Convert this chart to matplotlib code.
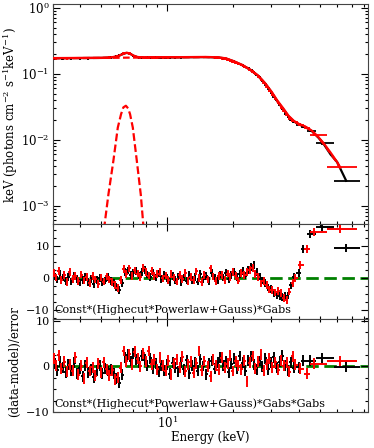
import numpy as np
import matplotlib
matplotlib.use("Agg")
import matplotlib.pyplot as plt
from matplotlib.ticker import LogLocator, MultipleLocator, NullFormatter

plt.rcParams['font.family'] = 'DejaVu Serif'
plt.rcParams['mathtext.fontset'] = 'dejavuserif'
plt.rcParams['font.size'] = 8
plt.rcParams['xtick.labelsize'] = 8.5
plt.rcParams['ytick.labelsize'] = 8.5

# --- bin centres (keV) ---
e_black = [3.05, 3.14, 3.23, 3.33, 3.43, 3.53, 3.64, 3.75, 3.86, 3.98,
           4.10, 4.22, 4.35, 4.48, 4.62, 4.76, 4.90, 5.05, 5.20, 5.36,
           5.52, 5.69, 5.86, 6.04, 6.22, 6.41, 6.60, 6.80, 7.00, 7.21,
           7.43, 7.65, 7.88, 8.12, 8.36, 8.61, 8.87, 9.14, 9.41, 9.69,
           9.98, 10.3, 10.6, 10.9, 11.2, 11.6, 11.9, 12.3, 12.6, 13.0,
           13.4, 13.8, 14.2, 14.6, 15.1, 15.5, 16.0, 16.5, 17.0, 17.5,
           18.0, 18.6, 19.1, 19.7, 20.3, 20.9, 21.5, 22.2, 22.8, 23.5,
           24.2, 25.0, 25.7, 26.5, 27.3, 28.1, 29.0, 29.9, 30.8, 31.7,
           32.7, 33.7, 34.7, 35.7, 36.8, 38.0, 40.0, 42.0, 45.0, 51.0,
           66.0]
e_red = [3.02, 3.10, 3.19, 3.28, 3.38, 3.48, 3.58, 3.69, 3.80, 3.92,
         4.04, 4.16, 4.29, 4.42, 4.55, 4.69, 4.83, 4.97, 5.12, 5.28,
         5.44, 5.60, 5.77, 5.95, 6.13, 6.31, 6.50, 6.70, 6.90, 7.11,
         7.32, 7.54, 7.77, 8.00, 8.24, 8.49, 8.74, 9.00, 9.27, 9.55,
         9.84, 10.1, 10.4, 10.7, 11.1, 11.4, 11.7, 12.1, 12.5, 12.8,
         13.2, 13.6, 14.0, 14.4, 14.8, 15.3, 15.8, 16.2, 16.7, 17.2,
         17.8, 18.3, 18.9, 19.4, 20.0, 20.6, 21.2, 21.8, 22.5, 23.2,
         23.9, 24.6, 25.3, 26.1, 26.9, 27.7, 28.5, 29.4, 30.3, 31.2,
         32.2, 33.2, 34.2, 35.2, 36.3, 37.5, 38.5, 40.7, 43.6, 47.0,
         62.0]
e_lo, e_hi_black, e_hi_red = 3.0, 76.0, 74.0

# --- unfolded spectrum keV (photons cm^-2 s^-1 keV^-1) ---
flux_black = [0.171, 0.173, 0.172, 0.170, 0.172, 0.173, 0.171, 0.172, 0.174, 0.171,
              0.172, 0.173, 0.171, 0.173, 0.172, 0.174, 0.173, 0.172, 0.174, 0.173,
              0.177, 0.179, 0.183, 0.191, 0.199, 0.207, 0.206, 0.199, 0.188, 0.181,
              0.177, 0.176, 0.175, 0.176, 0.175, 0.176, 0.177, 0.176, 0.177, 0.176,
              0.177, 0.176, 0.178, 0.177, 0.178, 0.177, 0.178, 0.179, 0.178, 0.179,
              0.179, 0.178, 0.180, 0.179, 0.180, 0.179, 0.178, 0.177, 0.175, 0.173,
              0.170, 0.166, 0.161, 0.156, 0.153, 0.147, 0.141, 0.134, 0.128, 0.121,
              0.113, 0.105, 0.097, 0.088, 0.078, 0.069, 0.060, 0.052, 0.045, 0.040,
              0.034, 0.029, 0.025, 0.022, 0.020, 0.0185, 0.0168, 0.0158, 0.0135, 0.0088,
              0.0024]
flux_red = [0.173, 0.171, 0.174, 0.172, 0.173, 0.171, 0.174, 0.172, 0.173, 0.174,
            0.172, 0.174, 0.173, 0.172, 0.174, 0.173, 0.175, 0.173, 0.174, 0.175,
            0.176, 0.178, 0.182, 0.187, 0.195, 0.203, 0.208, 0.203, 0.194, 0.184,
            0.179, 0.177, 0.176, 0.177, 0.176, 0.177, 0.176, 0.177, 0.178, 0.177,
            0.178, 0.177, 0.178, 0.179, 0.178, 0.179, 0.178, 0.180, 0.179, 0.180,
            0.180, 0.179, 0.181, 0.180, 0.181, 0.180, 0.179, 0.178, 0.176, 0.174,
            0.171, 0.168, 0.163, 0.158, 0.153, 0.147, 0.141, 0.135, 0.128, 0.121,
            0.115, 0.108, 0.100, 0.091, 0.081, 0.072, 0.063, 0.055, 0.048, 0.042,
            0.036, 0.031, 0.027, 0.024, 0.021, 0.0195, 0.0185, 0.0170, 0.0152, 0.0118,
            0.0039]
rel_err = 0.04

# --- model curves ---
model_e = [3.0, 4.0, 5.0, 5.5, 5.8, 6.0, 6.2, 6.4, 6.5, 6.6,
           6.8, 7.0, 7.3, 7.7, 9.0, 12.0, 15.0, 17.0, 18.5, 20.0,
           22.0, 24.0, 26.0, 28.0, 30.0, 32.0, 34.0, 36.0, 38.0, 40.0,
           43.0, 46.0, 49.0, 52.0, 56.0, 60.0, 66.0]
model_black = [0.172, 0.173, 0.174, 0.176, 0.181, 0.187, 0.196, 0.204, 0.207, 0.206,
               0.199, 0.188, 0.179, 0.176, 0.176, 0.178, 0.179, 0.177, 0.171, 0.156,
               0.136, 0.115, 0.094, 0.072, 0.053, 0.038, 0.029, 0.0225, 0.019, 0.0172,
               0.0156, 0.0135, 0.0110, 0.0087, 0.0060, 0.0046, 0.0024]
model_e_red = [3.0, 4.0, 5.0, 5.5, 5.8, 6.0, 6.2, 6.4, 6.5, 6.6,
               6.8, 7.0, 7.3, 7.7, 9.0, 12.0, 15.0, 17.0, 18.5, 20.0,
               22.0, 24.0, 26.0, 28.0, 30.0, 32.0, 34.0, 36.0, 38.0, 40.0,
               43.0, 46.0, 49.0, 52.0, 56.0, 60.0, 62.0]
model_red = [0.173, 0.174, 0.175, 0.177, 0.182, 0.188, 0.197, 0.205, 0.208, 0.207,
             0.200, 0.189, 0.180, 0.177, 0.177, 0.179, 0.180, 0.178, 0.172, 0.157,
             0.137, 0.116, 0.095, 0.073, 0.054, 0.039, 0.030, 0.0230, 0.0194, 0.0175,
             0.0158, 0.0137, 0.0112, 0.0089, 0.0064, 0.0046, 0.0038]
cont_e = [3.0, 5.0, 6.0, 7.0, 8.0, 12.0, 15.0, 17.0, 18.5, 20.0,
          22.0, 24.0, 26.0, 28.0, 30.0, 32.0, 34.0, 36.0, 38.0, 40.0,
          43.0, 46.0, 49.0, 52.0, 56.0, 60.0, 62.0]
cont_red = [0.172, 0.174, 0.175, 0.176, 0.176, 0.178, 0.179, 0.177, 0.171, 0.156,
            0.136, 0.115, 0.094, 0.072, 0.053, 0.038, 0.029, 0.0225, 0.019, 0.0172,
            0.0156, 0.0135, 0.0110, 0.0087, 0.0062, 0.0045, 0.0037]
gauss_e = [5.05, 5.16, 5.38, 5.67, 5.94, 6.15, 6.30, 6.47, 6.62, 6.76, 6.96, 7.26, 7.57, 7.78, 7.90]
gauss_red = [0.0003, 0.0005, 0.00148, 0.0048, 0.0153, 0.0245, 0.031, 0.0328, 0.030, 0.0245,
             0.0153, 0.0048, 0.00148, 0.0005, 0.0003]

# --- residuals, model without second Gabs ---
res1_black = [0.5, -0.4, 1.2, 0.2, -0.9, 0.3, -1.1, 0.6, -0.3, -1.4,
              -0.6, 0.4, -1.3, -0.2, -1.8, -0.5, 0.1, -1.2, -0.8, 0.3,
              -0.9, -1.6, -2.8, -3.8, -1.5, 1.8, 2.4, 0.9, 1.6, 2.2,
              0.8, 1.9, 2.6, 1.1, 0.4, 1.7, 0.2, 1.4, -0.3, 0.9,
              0.1, -1.2, 0.7, -0.6, 0.5, -1.4, 0.2, -0.8, 1.0, -0.5,
              0.3, -1.1, 1.2, -0.4, 0.6, -0.9, 1.5, 0.0, -0.7, 1.1,
              0.2, 1.7, -0.2, 0.9, 1.8, 0.4, 1.3, 2.2, 0.8, 2.6,
              3.4, 4.1, 2.0, 0.5, -0.8, -1.6, -2.9, -3.4, -4.6, -5.2,
              -5.5, -5.9, -5.7, -5.4, -2.3, 0.4, 1.5, 9.0, 13.7, 16.0,
              9.5]
res1_red = [1.5, 0.2, 2.2, -0.6, 0.9, -1.3, 1.8, -0.2, 0.6, -1.0,
            1.1, -0.8, 0.3, -1.5, 0.7, -0.4, -1.9, 0.2, -1.1, 0.5,
            -0.4, -1.2, -2.2, -3.0, -0.6, 2.8, 1.2, 3.0, 0.6, 2.4,
            1.4, 0.3, 3.2, 1.9, 0.8, 2.3, 0.6, 1.2, 2.0, -0.1,
            0.8, -0.6, 1.3, 0.2, -1.1, 0.9, -0.3, 1.6, -0.9, 0.4,
            -0.5, 2.1, 0.1, -1.2, 0.9, -0.4, 3.0, 0.5, -1.0, 0.7,
            1.0, -0.6, 1.4, 0.3, 2.0, 0.6, -0.8, 1.5, 0.9, 1.8,
            2.5, 3.2, 1.2, 0.4, -1.7, -1.0, -2.1, -3.6, -3.8, -4.5,
            -4.0, -4.6, -6.2, -6.9, -4.2, -1.5, 0.0, 4.0, 9.0, 14.4,
            15.3]

# --- residuals, model with second Gabs ---
res2_black = [0.6, -0.8, 1.0, -0.2, -1.3, 0.4, -0.9, 0.8, -1.6, -0.4,
              -2.2, 0.2, -1.4, -0.6, -2.4, -0.9, 0.3, -1.5, -0.5, -1.0,
              -0.6, -1.5, -2.6, -3.6, -1.8, 2.0, 2.6, 1.2, 2.9, 1.6,
              0.9, 2.4, 1.5, 0.2, 1.8, -0.4, 0.7, -1.2, 0.3, -0.8,
              0.5, -1.6, 0.8, -0.3, -1.2, 0.9, -0.6, 1.4, -1.5, 0.2,
              0.8, -0.9, 1.6, 0.1, -1.7, 0.6, 1.2, -0.5, 0.9, 2.0,
              0.3, 1.1, -1.3, 0.6, 1.7, -0.4, 2.3, 0.8, -0.9, 1.4,
              2.1, 0.5, -0.7, 1.2, 0.0, 1.8, -0.6, 0.9, 2.0, -0.3,
              1.0, 2.4, 0.3, -0.8, 0.9, -0.3, -0.2, 1.3, 1.3, 1.8,
              -0.1]
res2_red = [1.8, 0.3, 2.5, -0.5, 1.0, -1.2, 0.4, -0.9, 2.0, -1.8,
            0.2, -2.6, 0.8, -1.0, -0.2, -2.0, 0.6, -1.3, 0.9, -0.6,
            -1.9, -0.8, -2.9, -2.4, -0.3, 3.4, 1.1, 2.7, 0.4, 3.2,
            1.7, 0.0, 2.9, 1.0, 3.4, 0.5, 1.5, -0.6, 1.9, 0.2,
            -0.9, 1.3, -1.8, 0.6, 1.6, -0.2, 2.1, -1.1, 0.4, 1.0,
            -1.4, 0.7, 3.4, -0.8, 1.2, -0.1, -2.2, 1.5, 0.3, -0.7,
            1.9, -0.3, 0.6, 2.4, -1.0, 1.1, 0.2, -0.6, 1.3, -3.3,
            0.8, 2.3, -0.4, 1.0, 2.6, -0.8, 0.5, 1.7, -0.2, 0.9,
            -0.7, 1.4, 0.2, 0.8, -1.2, 2.2, 0.4, -0.5, -1.6, 0.6,
            1.2]

label1 = "Const*(Highecut*Powerlaw+Gauss)*Gabs"
label2 = "Const*(Highecut*Powerlaw+Gauss)*Gabs*Gabs"


def bin_err(c, lo, hi):
    c = np.asarray(c)
    inner = np.sqrt(c[:-1] * c[1:])
    left = np.r_[lo, inner]
    right = np.r_[inner, hi]
    return np.vstack([c - left, right - c])


xe_black = bin_err(e_black, e_lo, e_hi_black)
xe_red = bin_err(e_red, e_lo, e_hi_red)

fig = plt.figure(figsize=(3.74, 4.48), dpi=100)
ax0 = fig.add_axes([0.1417, 0.500, 0.842, 0.491])
ax1 = fig.add_axes([0.1417, 0.2886, 0.842, 0.2114], sharex=ax0)
ax2 = fig.add_axes([0.1417, 0.0804, 0.842, 0.2083], sharex=ax0)

# main panel
ax0.errorbar(e_black, flux_black, xerr=xe_black, yerr=rel_err * np.array(flux_black),
             fmt='none', ecolor='black', elinewidth=1.3, zorder=2)
ax0.plot(model_e, model_black, color='black', lw=1.6, zorder=3)
ax0.errorbar(e_red, flux_red, xerr=xe_red, yerr=rel_err * np.array(flux_red),
             fmt='none', ecolor='red', elinewidth=1.3, zorder=4)
ax0.plot(model_e_red, model_red, color='red', lw=1.6, zorder=5)
ax0.plot(cont_e, cont_red, color='red', lw=1.6, ls=(0, (3, 1.5)), zorder=5)
ax0.plot(gauss_e, gauss_red, color='red', lw=1.6, ls=(0, (3.5, 1.5)), zorder=5)
ax0.set_yscale('log')
ax0.set_ylim(5.3e-4, 1.14)

for ax, rb, rr, txt, lim in [(ax1, res1_black, res1_red, label1, (-12.7, 16.9)),
                             (ax2, res2_black, res2_red, label2, (-10.0, 10.5))]:
    ax.axhline(0, color='#008000', lw=2.0, ls=(0, (4.5, 2)), zorder=1)
    ax.errorbar(e_black, rb, xerr=xe_black, yerr=1.2, fmt='none',
                ecolor='black', elinewidth=1.4, zorder=2)
    ax.errorbar(e_red, rr, xerr=xe_red, yerr=1.2, fmt='none',
                ecolor='red', elinewidth=1.4, zorder=3)
    ax.set_ylim(*lim)
    ax.yaxis.set_major_locator(MultipleLocator(10))
    ax.yaxis.set_minor_locator(MultipleLocator(2.5))
    ax.tick_params(axis='y', labelsize=8)
    ax.text(0.004, 0.035, txt, transform=ax.transAxes, ha='left', va='bottom',
            fontsize=8, zorder=6)

ax0.set_xscale('log')
ax0.set_xlim(3.0, 83.0)

for ax in (ax0, ax1, ax2):
    ax.tick_params(which='both', direction='in', top=True, right=True, width=0.8, pad=2.5)
    ax.tick_params(which='major', length=5)
    ax.tick_params(which='minor', length=2.5)
    ax.xaxis.set_minor_formatter(NullFormatter())
    for s in ax.spines.values():
        s.set_linewidth(0.8)
        s.set_color('#444444')
for ax in (ax0, ax1):
    ax.tick_params(labelbottom=False)

ax0.yaxis.set_major_locator(LogLocator(base=10, numticks=10))
ax0.yaxis.set_minor_locator(LogLocator(base=10, subs=np.arange(2, 10), numticks=10))
ax0.yaxis.set_minor_formatter(NullFormatter())

fig.text(11 / 374, 1 - 115 / 448, r'keV (photons cm$^{-2}$ s$^{-1}$keV$^{-1}$)',
         rotation=90, ha='center', va='center', fontsize=8.5)
fig.text(15 / 374, 1 - 362 / 448, '(data-model)/error',
         rotation=90, ha='center', va='center', fontsize=8.5)
fig.text(210 / 374, 1 - 437 / 448, 'Energy (keV)', ha='center', va='center', fontsize=8.5)

fig.savefig('out.png', dpi=100)
